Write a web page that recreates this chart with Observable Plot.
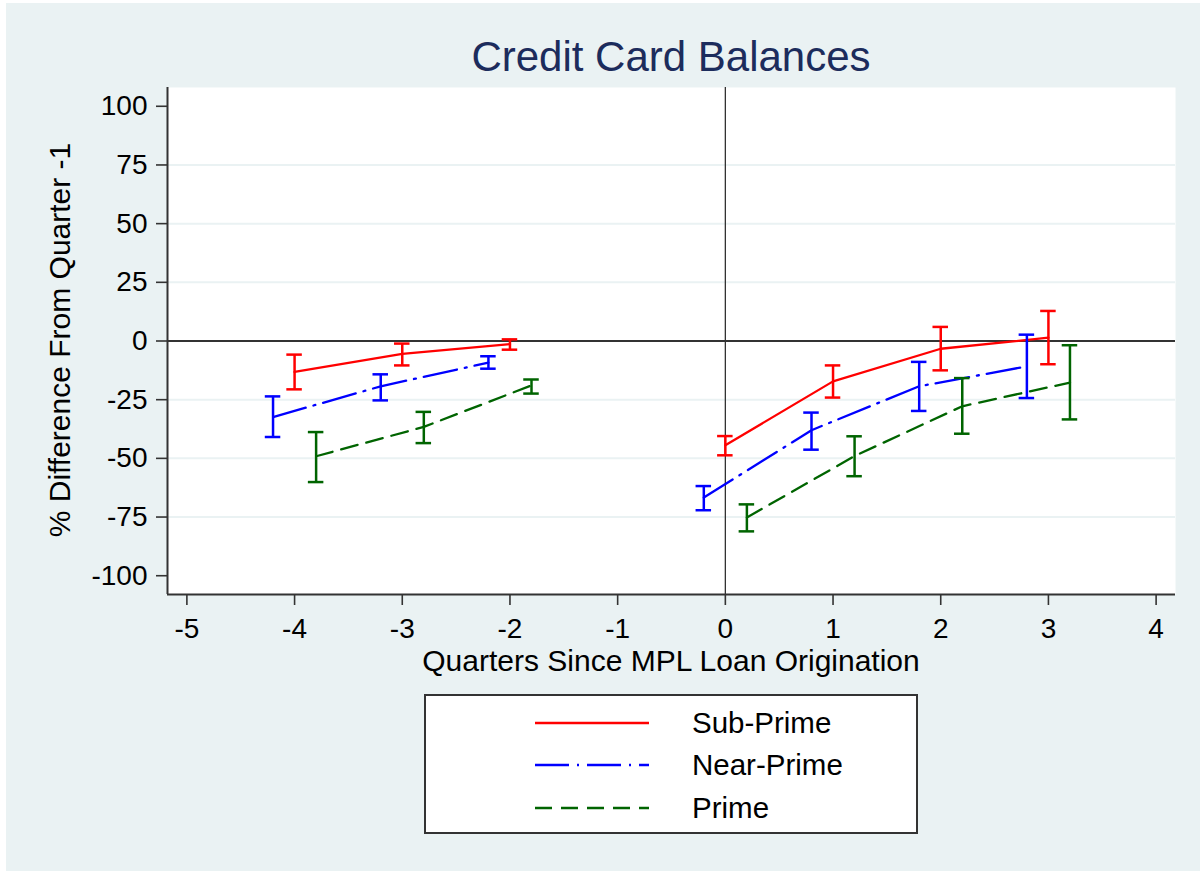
<!DOCTYPE html>
<html>
<head>
<meta charset="utf-8">
<script src="https://cdn.jsdelivr.net/npm/d3@7"></script>
<script src="https://cdn.jsdelivr.net/npm/@observablehq/plot@0.6"></script>
<style>
  html, body { margin: 0; padding: 0; background: #ffffff; }
  #page { position: relative; width: 1200px; height: 871px; overflow: hidden; font-family: "Liberation Sans", Arial, sans-serif; }
  #bg { position: absolute; left: 6px; top: 3px; right: 0; bottom: 0; background: #eaf2f3; }
  #chart { position: absolute; left: 0; top: 0; }
  .title { position: absolute; left: 0; width: 1342px; top: 36px; text-align: center; font-size: 42px; color: #1c2c5c; line-height: 1; }
  .xlabel { position: absolute; left: 0; width: 1342px; top: 646px; text-align: center; font-size: 30px; color: #000; line-height: 1; }
  .ylabel { position: absolute; left: 60px; top: 340px; transform: translate(-50%, -50%) rotate(-90deg); white-space: nowrap; font-size: 30px; color: #000; line-height: 1; }
  #legend { position: absolute; left: 424px; top: 694px; width: 490px; height: 136px; background: #fff; border: 2px solid #333; }
  .lrow { position: absolute; left: 0; height: 30px; }
  .lrow svg { position: absolute; left: 109px; top: 0; }
  .lrow span { position: absolute; left: 266px; top: 0; font-size: 29.5px; line-height: 30px; color: #000; white-space: nowrap; }
</style>
</head>
<body>
<div id="page">
  <div id="bg"></div>
  <div id="chart"></div>
  <div class="title">Credit Card Balances</div>
  <div class="xlabel">Quarters Since MPL Loan Origination</div>
  <div class="ylabel">% Difference From Quarter -1</div>
  <div id="legend"></div>
</div>
<script>
// ---- data ----
const quarters = [-4, -3, -2, 0, 1, 2, 3];

const seriesNames = ["Sub-Prime", "Near-Prime", "Prime"];

const subPrime   = [-13.2, -5.5, -1.3, -44.4, -17.2, -3.3, 1.4];
const subPrimeLo = [-20.6, -10.4, -3.7, -48.7, -24.1, -12.5, -9.9];
const subPrimeHi = [-5.8, -1.1, 0.7, -40.5, -10.4, 6.0, 12.8];

const nearPrime   = [-32.4, -19.3, -9.2, -66.7, -38.0, -19.3, -10.8];
const nearPrimeLo = [-40.9, -25.3, -11.8, -72.1, -46.3, -29.8, -24.3];
const nearPrimeHi = [-23.6, -14.2, -6.5, -61.8, -30.5, -8.9, 2.7];

const prime   = [-49.1, -36.6, -18.9, -75.2, -49.0, -27.8, -17.7];
const primeLo = [-60.1, -43.5, -22.4, -81.1, -57.6, -39.5, -33.4];
const primeHi = [-38.8, -30.2, -16.4, -69.6, -40.6, -15.8, -1.8];

const yTicks = [-100, -75, -50, -25, 0, 25, 50, 75, 100];
const xTicks = [-5, -4, -3, -2, -1, 0, 1, 2, 3, 4];
const gridValues = [-75, -50, -25, 25, 50, 75];

// ---- styling ----
const styles = {
  "Sub-Prime":  {color: "#ff0000", offset: 0,    dash: null,        y: subPrime,  lo: subPrimeLo,  hi: subPrimeHi},
  "Near-Prime": {color: "#0000ff", offset: -0.2, dash: "34,8,2,8",  y: nearPrime, lo: nearPrimeLo, hi: nearPrimeHi},
  "Prime":      {color: "#006400", offset: 0.2,  dash: "17,9",      y: prime,     lo: primeLo,     hi: primeHi}
};

const xDomain = [-5.18, 4.18];
const yDomain = [-108, 108];
const CAP = 0.072;

const marks = [
  Plot.frame({fill: "#ffffff", stroke: "none"}),
  Plot.ruleY(gridValues, {stroke: "#eaf2f3", strokeWidth: 2}),
  Plot.ruleX([0], {stroke: "#333333", strokeWidth: 1.3}),
  Plot.ruleY([0], {stroke: "#333333", strokeWidth: 2})
];

for (const name of seriesNames) {
  const s = styles[name];
  const rows = quarters.map((q, i) => ({
    x: q + s.offset, y: s.y[i], lo: s.lo[i], hi: s.hi[i],
    seg: q < -1 ? "pre" : "post"
  }));
  marks.push(Plot.line(rows, {x: "x", y: "y", z: "seg", stroke: s.color, strokeWidth: 2.3, strokeDasharray: s.dash || undefined}));
  marks.push(Plot.ruleX(rows, {x: "x", y1: "lo", y2: "hi", stroke: s.color, strokeWidth: 2.5}));
  marks.push(Plot.ruleY(rows, {y: "lo", x1: d => d.x - CAP, x2: d => d.x + CAP, stroke: s.color, strokeWidth: 2.5}));
  marks.push(Plot.ruleY(rows, {y: "hi", x1: d => d.x - CAP, x2: d => d.x + CAP, stroke: s.color, strokeWidth: 2.5}));
}

marks.push(
  Plot.ruleX([xDomain[0]], {stroke: "#333333", strokeWidth: 2}),
  Plot.ruleY([yDomain[0]], {stroke: "#333333", strokeWidth: 2}),
  Plot.axisY({ticks: yTicks, tickSize: 11, tickPadding: 9, tickFormat: d => String(d), fontSize: 28, label: null, stroke: "#333", strokeWidth: 1.6}),
  Plot.axisX({ticks: xTicks, tickSize: 11, tickPadding: 13, tickFormat: d => String(d), fontSize: 28, label: null, stroke: "#333", strokeWidth: 1.6})
);

const chart = Plot.plot({
  width: 1200,
  height: 700,
  marginLeft: 167,
  marginRight: 25,
  marginTop: 87,
  marginBottom: 106,
  x: {domain: xDomain},
  y: {domain: yDomain},
  style: {background: "transparent", fontFamily: "'Liberation Sans', Arial, sans-serif", color: "#000", overflow: "visible"},
  marks
});
document.getElementById("chart").appendChild(chart);

// ---- legend ----
const legend = document.getElementById("legend");
const rowTops = [12, 54, 97];
seriesNames.forEach((name, i) => {
  const s = styles[name];
  const row = document.createElement("div");
  row.className = "lrow";
  row.style.top = rowTops[i] + "px";
  row.innerHTML = `<svg width="114" height="30"><line x1="0" x2="114" y1="15" y2="15" stroke="${s.color}" stroke-width="2.3" ${s.dash ? `stroke-dasharray="${s.dash}"` : ""}/></svg><span>${name}</span>`;
  legend.appendChild(row);
});
</script>
</body>
</html>
